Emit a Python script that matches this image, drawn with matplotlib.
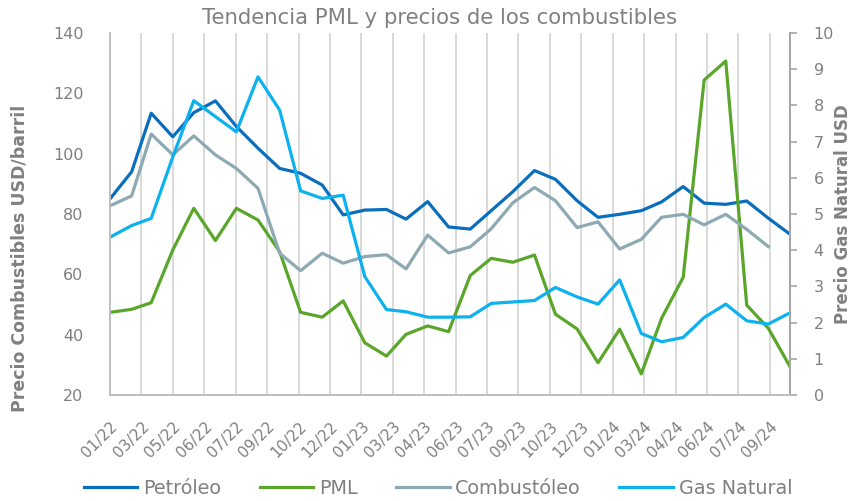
import numpy as np
import pandas as pd
import matplotlib
matplotlib.use('Agg')
import matplotlib.pyplot as plt

plt.rcParams['font.family'] = ['DejaVu Sans']

# datos mensuales 01/2022 - 09/2024
meses = pd.date_range('2022-01-01', '2024-09-01', freq='MS')

petroleo = [85, 94, 113.4, 105.6, 113.6, 117.5, 109, 101.8, 95.1, 93.5, 89.6, 79.7,
            81.3, 81.5, 78.3, 84.1, 75.7, 75.0, 81.1, 87.4, 94.4, 91.5, 84.4, 78.9,
            79.9, 81.1, 84.0, 89.1, 83.6, 83.2, 84.3, 78.6, 73.3]
pml = [47.4, 48.4, 50.6, 68.1, 81.9, 71.2, 81.9, 78.0, 67.5, 47.4, 45.8, 51.2,
       37.3, 32.9, 40.1, 42.9, 41.0, 59.6, 65.3, 64.0, 66.4, 46.8, 41.9, 30.7,
       41.8, 27.0, 45.4, 59.0, 124.4, 130.7, 49.8, 42.1, 29.4]
combustoleo = [82.7, 86.0, 106.5, 99.6, 105.9, 99.6, 95.1, 88.5, 67.0, 61.2, 67.0, 63.7,
               65.9, 66.5, 61.8, 73.0, 67.1, 69.1, 75.1, 83.7, 88.8, 84.4, 75.5, 77.4,
               68.4, 71.6, 78.9, 79.9, 76.4, 79.9, 74.9, 69.2]
gas_natural = [4.36, 4.68, 4.88, 6.58, 8.13, 7.69, 7.27, 8.79, 7.87, 5.64, 5.43, 5.52,
               3.27, 2.36, 2.30, 2.15, 2.15, 2.16, 2.53, 2.57, 2.61, 2.97, 2.71, 2.51,
               3.18, 1.70, 1.47, 1.59, 2.14, 2.51, 2.05, 1.96, 2.27]

etiquetas_x = ['01/22', '03/22', '05/22', '06/22', '07/22', '09/22', '10/22', '12/22',
               '01/23', '03/23', '04/23', '06/23', '07/23', '09/23', '10/23', '12/23',
               '01/24', '03/24', '04/24', '06/24', '07/24', '09/24']
ticks_x = pd.date_range('2022-01-01', periods=len(etiquetas_x), freq='45D')

c_pet = '#0A6EBD'
c_pml = '#5AA62A'
c_comb = '#8CA9B4'
c_gas = '#0DB1EE'
gris = '#808080'
eje = '#BFBFBF'

fig = plt.figure(figsize=(8.55, 5.01), dpi=100)
ax = fig.add_axes([110/855, 1-395/501, 680/855, 362/501])
ax2 = ax.twinx()

lw = 2.3
ax.plot(meses, petroleo, color=c_pet, lw=lw, label='Petróleo')
ax.plot(meses, pml, color=c_pml, lw=lw, label='PML')
ax.plot(meses[:len(combustoleo)], combustoleo, color=c_comb, lw=lw, label='Combustóleo')
ax2.plot(meses, gas_natural, color=c_gas, lw=lw, label='Gas Natural')

ax.set_xlim(meses[0], meses[-1])
ax.set_ylim(20, 140)
ax.set_yticks(np.arange(20, 141, 20))
ax2.set_ylim(0, 10)
ax2.set_yticks(np.arange(0, 11, 1))

ax.set_xticks(ticks_x)
ax.set_xticklabels(etiquetas_x, rotation=45, ha='right', va='top',
                   rotation_mode='anchor', fontsize=11, color=gris)
ax.tick_params(axis='x', length=0, pad=17)
ax.tick_params(axis='y', length=0, pad=19, labelsize=11.5, labelcolor=gris)
ax2.tick_params(axis='y', length=5, width=1.2, color='#A6A6A6', pad=12,
                labelsize=11.5, labelcolor=gris)

ax.grid(axis='x', color='#D9D9D9', lw=1.4)
ax.set_axisbelow(True)
for a in (ax, ax2):
    a.spines['top'].set_visible(False)
    a.spines['left'].set_color(eje)
    a.spines['bottom'].set_color(eje)
    a.spines['right'].set_color('#A6A6A6')
    for s in ('left', 'bottom', 'right'):
        a.spines[s].set_linewidth(1.4)

ax.set_ylabel('Precio Combustibles USD/barril', fontsize=12.5, fontweight='bold', color=gris)
ax.yaxis.set_label_coords(-0.12, 0.378)
ax2.set_ylabel('Precio Gas Natural USD', fontsize=12, fontweight='bold', color=gris, rotation=90)
ax2.yaxis.set_label_coords(1.064, 0.5)

fig.text(440/855, 1-18/501, 'Tendencia PML y precios de los combustibles',
         ha='center', va='center', fontsize=15.3, color=gris)

h1, l1 = ax.get_legend_handles_labels()
h2, l2 = ax2.get_legend_handles_labels()
fig.legend(h1 + h2, l1 + l2, loc='center', bbox_to_anchor=(438/855, 1-488/501),
           ncol=4, frameon=False, fontsize=13.8, labelcolor=gris,
           handlelength=2.8, handletextpad=0.3, columnspacing=2.0)

fig.savefig('out.png', dpi=100)
